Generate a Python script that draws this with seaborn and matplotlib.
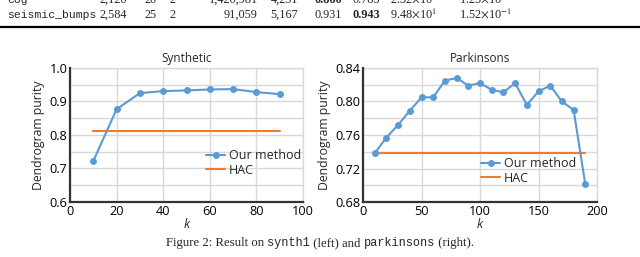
import numpy as np
import pandas as pd
import matplotlib
matplotlib.use("Agg")
import matplotlib.pyplot as plt
import seaborn as sns
from matplotlib.ticker import MultipleLocator
from matplotlib.lines import Line2D

# ---------------- data ----------------
synth_k = [10, 20, 30, 40, 50, 60, 70, 80, 90]
synth_ours = [0.722, 0.877, 0.925, 0.931, 0.933, 0.936, 0.937, 0.928, 0.922]
synth_hac_k = [10, 90]
synth_hac = [0.812, 0.812]

park_k = [10, 20, 30, 40, 50, 60, 70, 80, 90, 100, 110, 120, 130, 140, 150, 160, 170, 180, 190]
park_ours = [0.738, 0.757, 0.772, 0.789, 0.805, 0.805, 0.825, 0.828, 0.819, 0.822, 0.814, 0.811,
             0.822, 0.796, 0.812, 0.819, 0.800, 0.790, 0.701]
park_hac_k = [10, 190]
park_hac = [0.739, 0.739]

titles = ["Synthetic", "Parkinsons"]
series_names = ["Our method", "HAC"]

table_rows = [
    ["cog", "2,120", "20", "2", "1,420,981", "4,231", "0.860", "0.785", r"2.32$\times$10$^{1}$", r"1.25$\times$10$^{-1}$"],
    ["seismic_bumps", "2,584", "25", "2", "91,059", "5,167", "0.931", "0.943", r"9.48$\times$10$^{1}$", r"1.52$\times$10$^{-1}$"],
]
bold_cells = [(0, 6), (1, 7)]
caption_parts = [("Figure 2: Result on ", "serif"), ("synth1", "mono"), (" (left) and ", "serif"),
                 ("parkinsons", "mono"), (" (right).", "serif")]

# ---------------- style ----------------
sns.set_theme(style="white")
plt.rcParams["font.family"] = ["Open Sans", "DejaVu Sans"]
plt.rcParams["mathtext.fontset"] = "stix"

BLUE = "#5B9BD5"
ORANGE = "#ED7D31"
GRID = "#d9d9d9"
W, H = 640, 257

fig = plt.figure(figsize=(6.4, 2.57), dpi=100)

def px_axes(x0, x1, ytop, ybot):
    return fig.add_axes([x0 / W, 1 - ybot / H, (x1 - x0) / W, (ybot - ytop) / H])

ax1 = px_axes(70, 303, 68, 202)
ax2 = px_axes(363, 597, 68, 202)

configs = [
    (ax1, synth_k, synth_ours, synth_hac_k, synth_hac, (0, 100), 20, (0.6, 1.0), 0.1, 0.05, "{:.1f}",
     (0.585, 0.19)),
    (ax2, park_k, park_ours, park_hac_k, park_hac, (0, 200), 50, (0.68, 0.84), 0.04, 0.02, "{:.2f}",
     (0.505, 0.13)),
]

for i, (ax, k, ours, hk, hv, xl, xs, yl, ys, ymin, fmt, legpos) in enumerate(configs):
    df = pd.DataFrame({"k": k, "v": ours})
    dh = pd.DataFrame({"k": hk, "v": hv})
    sns.lineplot(data=df, x="k", y="v", ax=ax, color=BLUE, marker="o", markersize=5,
                 markeredgewidth=0, linewidth=1.5, label=series_names[0], zorder=4)
    sns.lineplot(data=dh, x="k", y="v", ax=ax, color=ORANGE, linewidth=1.5,
                 label=series_names[1], zorder=3)
    ax.set_xlim(*xl)
    ax.set_ylim(*yl)
    ax.xaxis.set_major_locator(MultipleLocator(xs))
    ax.yaxis.set_major_locator(MultipleLocator(ys))
    ax.yaxis.set_minor_locator(MultipleLocator(ymin))
    ax.set_yticklabels([fmt.format(t) for t in ax.get_yticks()])
    ax.grid(True, which="major", axis="x", color=GRID, linewidth=1)
    ax.grid(True, which="both", axis="y", color=GRID, linewidth=1)
    ax.set_axisbelow(True)
    ax.tick_params(axis="both", which="both", length=0, labelsize=9.2, colors="black", pad=2)
    for s in ["top", "right"]:
        ax.spines[s].set_color(GRID)
        ax.spines[s].set_linewidth(1)
    for s in ["left", "bottom"]:
        ax.spines[s].set_color("#333333")
        ax.spines[s].set_linewidth(1.6)
        ax.spines[s].set_zorder(5)
    ax.set_title(titles[i], fontsize=8.5, pad=4)
    ax.set_xlabel("k", fontsize=9, style="italic", labelpad=0)
    ax.set_ylabel("Dendrogram purity", fontsize=8.8, labelpad=3)
    ax.legend(loc="lower left", bbox_to_anchor=legpos, frameon=False, fontsize=9,
              handlelength=1.5, handletextpad=0.3, labelspacing=0.1, borderpad=0,
              borderaxespad=0)

# ---------------- table fragment at top ----------------
col_right = [None, 127, 157, 176, 258, 298, 342, 380, 437, 512]
baselines = [3, 17.5]
for r, row in enumerate(table_rows):
    yb = 1 - baselines[r] / H
    for c, txt in enumerate(row):
        weight = "bold" if (r, c) in bold_cells else "normal"
        if c == 0:
            fig.text(7 / W, yb, txt, family="Liberation Mono", fontsize=8.2, va="baseline", ha="left")
        else:
            fig.text(col_right[c] / W, yb, txt, family="Liberation Serif", fontsize=8.8,
                     weight=weight, va="baseline", ha="right")
fig.add_artist(Line2D([0, 1], [1 - 27 / H] * 2, color="black", linewidth=1.6))

# ---------------- caption ----------------
renderer = fig.canvas.get_renderer()
fams = {"serif": "Liberation Serif", "mono": "Liberation Mono"}
sizes = {"serif": 9.2, "mono": 8.6}
texts = []
for txt, kind in caption_parts:
    t = fig.text(0, 1 - 246 / H, txt, family=fams[kind], fontsize=sizes[kind], va="baseline", ha="left")
    texts.append(t)
widths = [t.get_window_extent(renderer=renderer).width for t in texts]
total = sum(widths)
x = (W / 2 - total / 2)
for t, w in zip(texts, widths):
    t.set_x(x / W)
    x += w

fig.savefig("out.png", dpi=100)
